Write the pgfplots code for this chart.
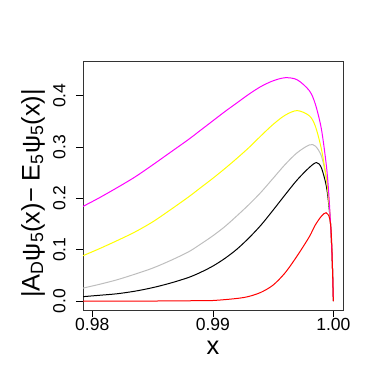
\documentclass[border=0pt]{standalone}
\usepackage{fontspec}
\setmainfont{Liberation Sans}
\usepackage{pgfplots}
\pgfplotsset{compat=1.18}
\definecolor{rgray}{HTML}{BEBEBE}
\definecolor{rmagenta}{HTML}{FF00FF}
\definecolor{ryellow}{HTML}{FFFF00}
\definecolor{rred}{HTML}{FF0000}

\begin{document}
\begin{tikzpicture}
  \path[use as bounding box] (0,0) rectangle (382bp,382bp);
  \begin{axis}[
    at={(83bp,72bp)}, anchor=south west,
    scale only axis,
    width=260bp, height=249bp,
    xmin=0.97923, xmax=1.0008,
    ymin=-0.0175, ymax=0.4676,
    xtick={0.98,0.99,1.00},
    xticklabels={0.98,0.99,1.00},
    ytick={0,0.1,0.2,0.3,0.4},
    yticklabels={0.0,0.1,0.2,0.3,0.4},
    xtick pos=bottom, ytick pos=left,
    tick align=outside,
    major tick length=7bp,
    every tick/.style={black, line width=0.6bp},
    axis line style={line width=0.75bp, black!80},
    ticklabel style={font=\fontsize{17.6}{19}\selectfont},
    yticklabel style={rotate=90, anchor=south},
    yticklabel shift=7bp,
    xticklabel shift=-2bp,
    xlabel={x},
    ylabel={|A\textsubscript{D}ψ\textsubscript{5}(x)− E\textsubscript{5}ψ\textsubscript{5}(x)|},
    label style={font=\fontsize{25.5}{28}\selectfont},
    xlabel style={at={(axis description cs:0.5,0)}, anchor=center, yshift=-38bp},
    ylabel style={at={(axis description cs:0,0.468)}, anchor=center, yshift=50bp},
    every axis plot/.append style={line width=1bp, smooth, tension=0.5, mark=none},
  ]
    % black
    \addplot[black] coordinates {
      (0.9792,0.0084) (0.9805,0.011) (0.982,0.014) (0.9835,0.019) (0.985,0.026)
      (0.9865,0.035) (0.988,0.046) (0.989,0.056) (0.990,0.068) (0.991,0.083)
      (0.992,0.101) (0.993,0.123) (0.994,0.148) (0.995,0.177) (0.996,0.207)
      (0.997,0.236) (0.998,0.260) (0.9986,0.2697) (0.999,0.260) (0.9994,0.226)
      (0.9996,0.192) (0.99978,0.145) (0.99992,0.07) (1.0,0.0)
    };
    % gray
    \addplot[rgray] coordinates {
      (0.9792,0.025) (0.9805,0.032) (0.982,0.041) (0.9835,0.052) (0.985,0.064)
      (0.9865,0.079) (0.988,0.096) (0.989,0.111) (0.990,0.127) (0.991,0.145)
      (0.992,0.166) (0.993,0.188) (0.994,0.212) (0.995,0.239) (0.996,0.266)
      (0.997,0.289) (0.998,0.304) (0.9985,0.302) (0.999,0.283) (0.9994,0.242)
      (0.9996,0.202) (0.99978,0.145) (0.99992,0.07) (1.0,0.0)
    };
    % yellow
    \addplot[ryellow] coordinates {
      (0.9792,0.088) (0.9805,0.101) (0.982,0.117) (0.9835,0.134) (0.985,0.154)
      (0.9865,0.178) (0.988,0.203) (0.989,0.221) (0.990,0.239) (0.991,0.258)
      (0.992,0.278) (0.993,0.299) (0.994,0.322) (0.995,0.344) (0.996,0.362)
      (0.997,0.371) (0.998,0.361) (0.9985,0.341) (0.999,0.297) (0.9994,0.242)
      (0.9996,0.202) (0.99978,0.145) (0.99992,0.07) (1.0,0.0)
    };
    % magenta
    \addplot[rmagenta] coordinates {
      (0.9792,0.184) (0.9805,0.200) (0.982,0.220) (0.9835,0.241) (0.985,0.265)
      (0.9865,0.290) (0.988,0.315) (0.989,0.333) (0.990,0.351) (0.991,0.369)
      (0.992,0.386) (0.993,0.403) (0.994,0.418) (0.995,0.429) (0.996,0.435)
      (0.997,0.431) (0.998,0.410) (0.9985,0.384) (0.999,0.336) (0.9994,0.268)
      (0.9996,0.216) (0.99978,0.145) (0.99992,0.07) (1.0,0.0)
    };
    % red
    \addplot[rred] coordinates {
      (0.9792,0.0) (0.985,0.0) (0.988,0.0005) (0.990,0.001) (0.992,0.005)
      (0.993,0.009) (0.994,0.017) (0.995,0.031) (0.996,0.055) (0.997,0.088)
      (0.998,0.125) (0.9985,0.148) (0.999,0.165) (0.9994,0.172) (0.9997,0.160)
      (0.99985,0.12) (1.0,0.0)
    };
  \end{axis}
\end{tikzpicture}
\end{document}
